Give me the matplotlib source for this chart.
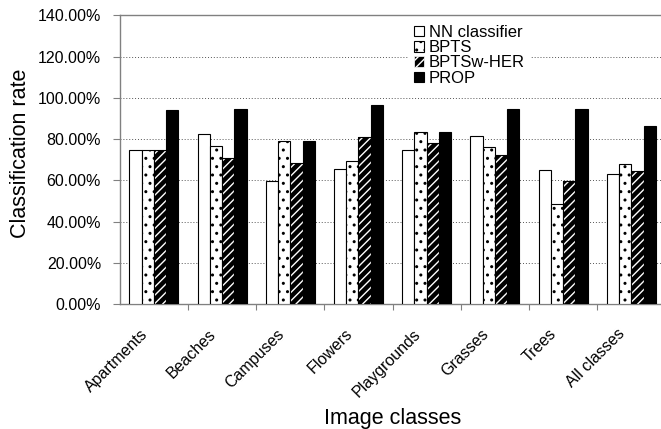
"""
Classification rate per image class - NN / BPTS / BPTSw-HER / PROP
"""
import numpy as np
import matplotlib
matplotlib.use("Agg")
import matplotlib.pyplot as plt
from matplotlib.patches import Patch
from matplotlib.ticker import FuncFormatter
from matplotlib.transforms import ScaledTranslation

plt.rcParams["font.family"] = ["Liberation Sans", "DejaVu Sans"]
plt.rcParams["hatch.linewidth"] = 1.0

classes = ["Apartments", "Beaches", "Campuses", "Flowers",
           "Playgrounds", "Grasses", "Trees", "All classes"]
nn = [74.8, 82.4, 59.6, 65.6, 74.6, 81.4, 65.2, 63.3]
bpts = [74.8, 76.9, 79.3, 69.4, 83.3, 76.1, 48.3, 67.7]
her = [74.8, 70.9, 68.3, 81.1, 78.0, 72.2, 59.9, 64.6]
prop = [94.0, 94.5, 79.3, 96.4, 83.5, 94.5, 94.5, 86.4]
yticks = [0, 20, 40, 60, 80, 100, 120, 140]

x = np.arange(len(classes))
w = 0.18
gray = "#808080"

fig = plt.figure(figsize=(6.61, 4.29), dpi=100)
ax = fig.add_axes([0.1812, 0.2914, 0.8254, 0.6725])

# NN classifier: plain white
ax.bar(x - 1.5 * w, nn, w, color="white", edgecolor="black", linewidth=0.8, zorder=3)
# BPTS: white with sparse dots
ax.bar(x - 0.5 * w, bpts, w, color="white", edgecolor="black", linewidth=0.8,
       hatch="..", zorder=3)
# BPTSw-HER: black with white stripes (hatch colour follows edgecolor)
ax.bar(x + 0.5 * w, her, w, color="black", edgecolor="white", linewidth=0,
       hatch="////", zorder=3)
ax.bar(x + 0.5 * w, her, w, fill=False, edgecolor="black", linewidth=0.8, zorder=4)
# PROP: solid black
ax.bar(x + 1.5 * w, prop, w, color="black", edgecolor="black", linewidth=0.8, zorder=3)

ax.set_xlim(-0.5, len(classes) - 0.5)
ax.set_ylim(0, 140)
ax.set_yticks(yticks)
ax.yaxis.set_major_formatter(FuncFormatter(lambda v, p: f"{v:.2f}%"))
ax.tick_params(axis="y", direction="out", length=5, width=0.8, color=gray,
               labelsize=11.5, pad=8.5)

ax.set_xticks(x)
ax.set_xticklabels(classes, rotation=45, ha="right", rotation_mode="anchor")
ax.set_xticks(x[1:] - 0.5, minor=True)
ax.tick_params(axis="x", which="major", length=0, labelsize=11.5, pad=16)
ax.tick_params(axis="x", which="minor", direction="out", length=4, width=0.8, color=gray)
shift = ScaledTranslation(-14 / 100, 0, fig.dpi_scale_trans)
for lab in ax.get_xticklabels():
    lab.set_transform(lab.get_transform() + shift)

for v in yticks[1:-1]:
    ax.axhline(v, color="#555555", linestyle=(0, (1, 2)), linewidth=0.7, zorder=1)

for s in ["left", "top", "bottom"]:
    ax.spines[s].set_color(gray)
    ax.spines[s].set_linewidth(1.0)
ax.spines["right"].set_visible(False)

ax.set_ylabel("Classification rate", fontsize=15.5, labelpad=4.5)
ax.yaxis.label.set_y(0.522)
ax.set_xlabel("Image classes", fontsize=15.5)
ax.xaxis.set_label_coords(0.5, -0.359)

handles = [Patch(facecolor="white", edgecolor="black", linewidth=0.8, label="NN classifier"),
           Patch(facecolor="white", edgecolor="black", linewidth=0.8, hatch="..", label="BPTS"),
           Patch(facecolor="black", edgecolor="white", linewidth=0.5, hatch="////", label="BPTSw-HER"),
           Patch(facecolor="black", edgecolor="black", linewidth=0.8, label="PROP")]
leg = ax.legend(handles=handles, loc="upper left", bbox_to_anchor=(0.53, 0.985),
                frameon=True, fancybox=False, edgecolor="none", framealpha=1,
                fontsize=12, handlelength=0.6, handleheight=0.6, handletextpad=0.3,
                labelspacing=0.02, borderpad=0.3, borderaxespad=0)
leg.set_zorder(5)

fig.savefig("out.png", dpi=100)
